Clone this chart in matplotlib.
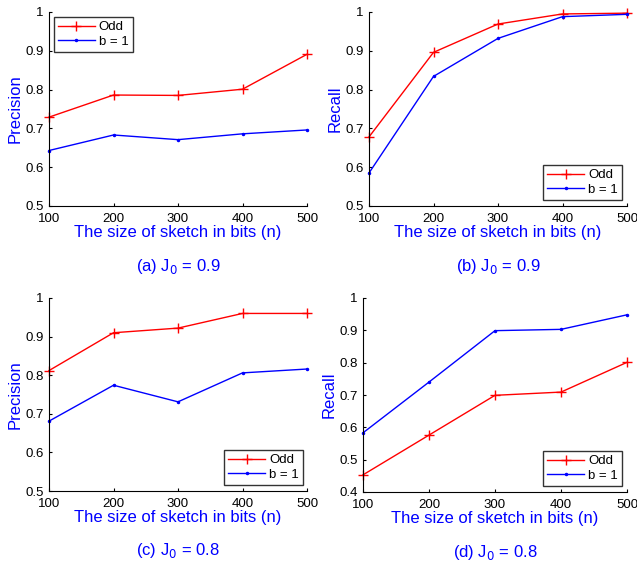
import matplotlib
matplotlib.use("Agg")
import matplotlib.pyplot as plt

plt.rcParams['font.family'] = ['Liberation Sans', 'DejaVu Sans']

n_bits = [100, 200, 300, 400, 500]

prec_odd_09 = [0.729, 0.786, 0.785, 0.801, 0.891]
prec_b1_09 = [0.643, 0.683, 0.671, 0.686, 0.696]
rec_odd_09 = [0.678, 0.896, 0.969, 0.995, 0.997]
rec_b1_09 = [0.585, 0.834, 0.932, 0.988, 0.994]
prec_odd_08 = [0.812, 0.910, 0.922, 0.960, 0.960]
prec_b1_08 = [0.681, 0.774, 0.731, 0.806, 0.816]
rec_odd_08 = [0.453, 0.576, 0.699, 0.709, 0.801]
rec_b1_08 = [0.583, 0.740, 0.899, 0.903, 0.948]

ylabels = ["Precision", "Recall", "Precision", "Recall"]
captions = ["(a) J$_0$ = 0.9", "(b) J$_0$ = 0.9", "(c) J$_0$ = 0.8", "(d) J$_0$ = 0.8"]
xlabel = "The size of sketch in bits (n)"
legend_labels = ["Odd", "b = 1"]

W, H = 637, 567
fig = plt.figure(figsize=(W / 100, H / 100), dpi=100)

# axes boxes in pixel coords: (left, top, right, bottom)
boxes = [(49, 12, 307, 206), (369, 12, 627, 206), (49, 298, 307, 491), (363, 298, 627, 492)]
data = [(prec_odd_09, prec_b1_09), (rec_odd_09, rec_b1_09),
        (prec_odd_08, prec_b1_08), (rec_odd_08, rec_b1_08)]
ylims = [(0.5, 1.0), (0.5, 1.0), (0.5, 1.0), (0.4, 1.0)]
legend_loc = ["upper left", "lower right", "lower right", "lower right"]
legend_anchor = [(54, 17), (622, 200), (303, 485), (622, 486)]

for i in range(4):
    l, t, r, b = boxes[i]
    ax = fig.add_axes([l / W, 1 - b / H, (r - l) / W, (b - t) / H])
    odd, b1 = data[i]
    ax.plot(n_bits, odd, color='red', marker='+', markersize=7, linewidth=1.0, label=legend_labels[0])
    ax.plot(n_bits, b1, color='blue', marker='.', markersize=3, linewidth=1.0, label=legend_labels[1])
    ax.set_xlim(100, 500)
    ax.set_ylim(*ylims[i])
    ax.set_xticks(n_bits)
    lo, hi = ylims[i]
    yt = [round(lo + 0.1 * k, 1) for k in range(int(round((hi - lo) / 0.1)) + 1)]
    ax.set_yticks(yt)
    ax.set_yticklabels([("1" if v == 1.0 else f"{v:.1f}") for v in yt])
    ax.spines['top'].set_visible(False)
    ax.spines['right'].set_visible(False)
    ax.tick_params(direction='in', length=2.5, labelsize=9.5)
    ax.tick_params(axis='x', pad=5)
    ax.tick_params(axis='y', pad=4)
    ax.set_xlabel(xlabel, color='blue', fontsize=12, labelpad=0)
    ax.set_ylabel(ylabels[i], color='blue', fontsize=12, labelpad=2)
    ax.patch.set_alpha(0)
    for ln in ax.lines:
        ln.set_clip_on(False)
    ax_, ay_ = legend_anchor[i]
    bb = (ax_ / W, 1 - ay_ / H)
    leg = ax.legend(loc=legend_loc[i], bbox_to_anchor=bb, bbox_transform=fig.transFigure,
                    fontsize=9.5, frameon=True, fancybox=False, edgecolor='black',
                    borderpad=0.3, handlelength=2.8, handletextpad=0.3, labelspacing=0.2,
                    borderaxespad=0)
    leg.get_frame().set_linewidth(1.0)
    cx = (l + r) / 2 / W
    fig.text(cx, 1 - (b + 60) / H, captions[i], ha='center', va='center', color='blue', fontsize=12)

fig.savefig("out.png", dpi=100)
